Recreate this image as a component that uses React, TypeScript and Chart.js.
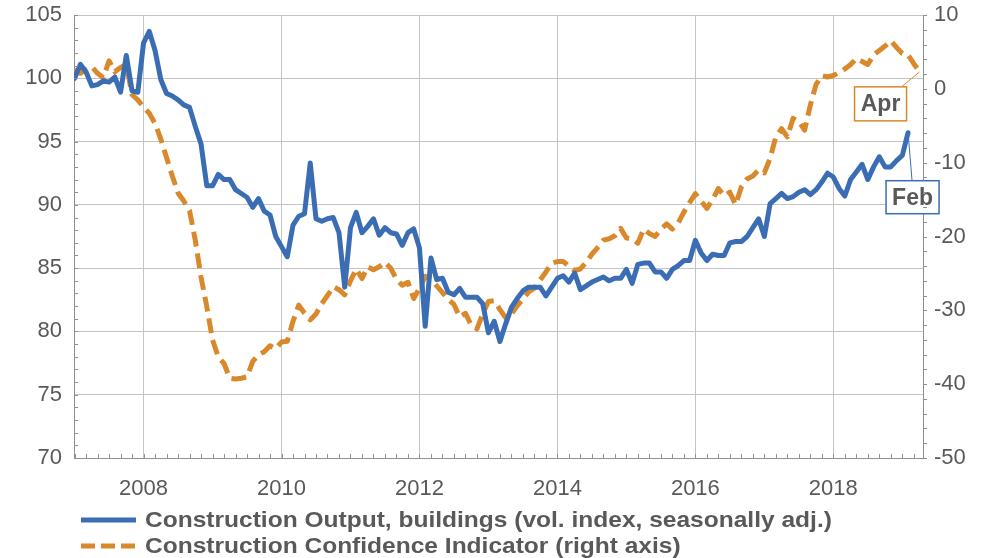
import React, { useEffect, useRef } from "react";
import { Chart, registerables } from "chart.js";

Chart.register(...registerables);

const START_YEAR = 2007;

// Construction Output, buildings (monthly, Jan 2007 - Feb 2019)
const outputBuildings = [
  100.0, 101.1, 100.5, 99.4, 99.5, 99.8, 99.7, 100.1, 98.9, 101.8, 99.0, 98.9,
  102.8, 103.7, 102.2, 99.9, 98.8, 98.6, 98.3, 97.9, 97.7, 96.2, 94.8, 91.5,
  91.5, 92.4, 92.0, 92.0, 91.2, 90.9, 90.6, 89.8, 90.5, 89.5, 89.2, 87.5,
  86.7, 85.9, 88.4, 89.1, 89.3, 93.3, 88.9, 88.7, 88.9, 89.0, 87.8, 83.5,
  88.2, 89.4, 87.8, 88.3, 88.9, 87.6, 88.2, 87.8, 87.7, 86.8, 87.8, 88.1,
  86.6, 80.4, 85.8, 84.1, 84.2, 83.1, 82.9, 83.4, 82.7, 82.7, 82.7, 82.2,
  79.9, 80.8, 79.2, 80.6, 81.9, 82.6, 83.2, 83.5, 83.5, 83.5, 82.8, 83.5,
  84.2, 84.4, 83.9, 84.6, 83.3, 83.6, 83.9, 84.1, 84.3, 84.0, 84.2, 84.2,
  84.9, 83.8, 85.3, 85.4, 85.4, 84.7, 84.7, 84.2, 84.9, 85.2, 85.6, 85.6,
  87.2, 86.2, 85.6, 86.1, 86.0, 86.0, 87.0, 87.1, 87.1, 87.5, 88.2, 88.9,
  87.5, 90.1, 90.5, 90.9, 90.5, 90.65, 91.0, 91.2, 90.8, 91.2, 91.8, 92.5,
  92.2, 91.3, 90.7, 92.0, 92.6, 93.2, 92.0, 93.0, 93.8, 93.0, 93.0, 93.5,
  93.9, 95.7,
];

// Construction Confidence Indicator (monthly, Jan 2007 - Apr 2019)
const confidenceIndicator = [
  2.6, 2.1, 2.6, 3.0, 2.1, 1.5, 3.8, 2.3, 2.9, 3.3, -0.8, -1.5,
  -2.5, -3.3, -4.7, -6.8, -9.3, -11.8, -14.1, -15.2, -16.5, -20.5, -25.5, -29.5,
  -34.0, -36.3, -37.2, -39.2, -39.3, -39.2, -39.0, -36.9, -36.0, -35.6, -34.8, -35.2,
  -34.3, -34.2, -31.5, -29.3, -30.4, -31.3, -30.5, -29.1, -28.0, -26.8, -27.2, -27.9,
  -26.0, -24.4, -25.7, -24.1, -24.5, -24.1, -23.5, -24.3, -25.8, -26.6, -26.2, -28.4,
  -27.0, -25.4, -25.8, -26.7, -27.6, -28.5, -29.2, -30.9, -30.4, -32.0, -32.5, -30.5,
  -28.8, -28.7, -29.9, -31.0, -30.5, -29.4, -28.5, -27.5, -27.0, -25.9, -24.8, -23.6,
  -23.4, -23.4, -24.0, -24.6, -24.4, -23.5, -22.4, -21.5, -20.5, -20.3, -19.9, -18.9,
  -20.2, -20.3, -20.9, -19.0, -19.6, -20.0, -19.0, -18.3, -19.0, -18.2, -16.7, -15.4,
  -14.2, -15.2, -16.2, -15.0, -13.5, -14.5, -14.0, -15.7, -13.3, -12.2, -11.8, -11.0,
  -11.4, -9.4, -6.5, -5.4, -6.5, -4.0, -4.4, -5.6, -2.2, 0.6, 1.8, 1.6,
  1.8, 2.2, 2.7, 3.3, 4.1, 3.7, 3.3, 4.6, 5.2, 5.8, 6.5, 5.6,
  4.8, 4.6, 3.4, 2.3,
];

const xTickYears = [2008, 2010, 2012, 2014, 2016, 2018];
const leftTicks = [70, 75, 80, 85, 90, 95, 100, 105];
const rightTicks = [-50, -40, -30, -20, -10, 0, 10];

const outputLabel = "Construction Output, buildings (vol. index, seasonally adj.)";
const confidenceLabel = "Construction Confidence Indicator (right axis)";
const outputEndLabel = "Feb";
const confidenceEndLabel = "Apr";

const BLUE = "#3B6DB5";
const ORANGE = "#D9892C";
const TEXT = "#595959";
const GRID = "#c4c4c4";
const AXIS = "#8f8f8f";
const FONT = "'Liberation Sans', Arial, sans-serif";

const W = 989;
const H = 558;

const minorTicksPlugin = {
  id: "minorTicks",
  afterDraw(chart: any) {
    const ctx = chart.ctx;
    const { left, right, bottom } = chart.chartArea;
    const yl = chart.scales.y;
    const yr = chart.scales.y1;
    const x = chart.scales.x;
    ctx.save();
    ctx.strokeStyle = AXIS;
    ctx.lineWidth = 1;
    ctx.beginPath();
    for (let v = yl.min; v <= yl.max; v += 1) {
      const p = Math.round(yl.getPixelForValue(v)) + 0.5;
      ctx.moveTo(left, p);
      ctx.lineTo(left + 4, p);
    }
    for (let v = yr.min; v <= yr.max; v += 2) {
      const p = Math.round(yr.getPixelForValue(v)) + 0.5;
      ctx.moveTo(right, p);
      ctx.lineTo(right + 4, p);
    }
    for (let m = 0; m <= x.max; m += 2) {
      const p = Math.round(x.getPixelForValue(m)) + 0.5;
      ctx.moveTo(p, bottom);
      ctx.lineTo(p, bottom - 4);
    }
    ctx.stroke();
    ctx.restore();
  },
};

function drawCallout(
  ctx: CanvasRenderingContext2D,
  px: number,
  py: number,
  boxLeft: number,
  boxTop: number,
  boxW: number,
  boxH: number,
  anchorX: number,
  anchorY: number,
  color: string,
  text: string
) {
  ctx.save();
  ctx.strokeStyle = color;
  ctx.lineWidth = 1;
  ctx.beginPath();
  ctx.moveTo(px, py);
  ctx.lineTo(anchorX, anchorY);
  ctx.stroke();
  ctx.fillStyle = "#ffffff";
  ctx.fillRect(boxLeft, boxTop, boxW, boxH);
  ctx.lineWidth = 1.5;
  ctx.strokeRect(boxLeft, boxTop, boxW, boxH);
  ctx.fillStyle = TEXT;
  ctx.font = `bold 23px ${FONT}`;
  ctx.textAlign = "center";
  ctx.textBaseline = "middle";
  ctx.fillText(text, boxLeft + boxW / 2, boxTop + boxH / 2 + 1);
  ctx.restore();
}

const calloutPlugin = {
  id: "endCallouts",
  afterDatasetsDraw(chart: any) {
    const ctx = chart.ctx;
    const m0 = chart.getDatasetMeta(0).data;
    const m1 = chart.getDatasetMeta(1).data;
    const pb = m0[m0.length - 1];
    const po = m1[m1.length - 1];
    {
      const bw = 52, bh = 34;
      const bl = po.x - 13 - bw;
      const bt = po.y + 15;
      drawCallout(ctx, po.x, po.y, bl, bt, bw, bh, bl + bw - 5, bt, ORANGE, confidenceEndLabel);
    }
    {
      const bw = 53, bh = 33;
      const bl = pb.x - 22;
      const bt = pb.y + 48;
      drawCallout(ctx, pb.x, pb.y, bl, bt, bw, bh, pb.x + 4, bt, BLUE, outputEndLabel);
    }
  },
};

export default function App() {
  const canvasRef = useRef<HTMLCanvasElement | null>(null);

  useEffect(() => {
    document.body.style.margin = "0";
    const canvas = canvasRef.current;
    if (!canvas) return;

    const blueData = outputBuildings.map((v, i) => ({ x: i, y: v }));
    const orangeData = confidenceIndicator.map((v, i) => ({ x: i, y: v }));

    const chart = new Chart(canvas, {
      type: "line",
      data: {
        datasets: [
          {
            label: outputLabel,
            data: blueData,
            yAxisID: "y",
            borderColor: BLUE,
            backgroundColor: BLUE,
            borderWidth: 5,
            pointRadius: 0,
            tension: 0,
            borderJoinStyle: "round",
            borderCapStyle: "round",
          },
          {
            label: confidenceLabel,
            data: orangeData,
            yAxisID: "y1",
            borderColor: ORANGE,
            backgroundColor: ORANGE,
            borderWidth: 5,
            borderDash: [15, 7],
            pointRadius: 0,
            tension: 0,
            borderJoinStyle: "round",
          },
        ],
      },
      options: {
        responsive: false,
        animation: false,
        events: [],
        layout: { autoPadding: false, padding: { top: 15, left: 0, right: 0, bottom: 0 } },
        plugins: {
          legend: { display: false },
          tooltip: { enabled: false },
          title: { display: false },
        },
        scales: {
          x: {
            type: "linear",
            position: "bottom",
            min: -0.1,
            max: 147.6,
            afterBuildTicks: (scale: any) => {
              scale.ticks = xTickYears.map((y) => ({ value: (y - START_YEAR) * 12 }));
            },
            afterFit: (scale: any) => {
              scale.height = 100;
              scale.paddingLeft = 0;
              scale.paddingRight = 0;
            },
            ticks: {
              color: TEXT,
              font: { family: FONT, size: 22 },
              padding: 18,
              maxRotation: 0,
              autoSkip: false,
              callback: (v: any) => String(START_YEAR + Number(v) / 12),
            },
            grid: { color: GRID, lineWidth: 1, drawTicks: false },
            border: { color: AXIS, width: 1 },
          },
          y: {
            type: "linear",
            position: "left",
            min: 70,
            max: 105,
            afterBuildTicks: (scale: any) => {
              scale.ticks = leftTicks.map((v) => ({ value: v }));
            },
            afterFit: (scale: any) => {
              scale.width = 74;
              scale.paddingTop = 0;
              scale.paddingBottom = 0;
            },
            ticks: {
              color: TEXT,
              font: { family: FONT, size: 22 },
              padding: 12,
              autoSkip: false,
            },
            grid: { color: GRID, lineWidth: 1, drawTicks: false },
            border: { color: AXIS, width: 1 },
          },
          y1: {
            type: "linear",
            position: "right",
            min: -50,
            max: 10,
            afterBuildTicks: (scale: any) => {
              scale.ticks = rightTicks.map((v) => ({ value: v }));
            },
            afterFit: (scale: any) => {
              scale.width = 66;
              scale.paddingTop = 0;
              scale.paddingBottom = 0;
            },
            ticks: {
              color: TEXT,
              font: { family: FONT, size: 22 },
              padding: 11,
              autoSkip: false,
            },
            grid: { drawOnChartArea: false, drawTicks: false },
            border: { color: AXIS, width: 1 },
          },
        },
      },
      plugins: [minorTicksPlugin, calloutPlugin],
    } as any);

    return () => {
      chart.destroy();
    };
  }, []);

  const rowStyle: React.CSSProperties = {
    display: "flex",
    alignItems: "center",
    height: 26,
    whiteSpace: "nowrap",
  };
  const textStyle: React.CSSProperties = {
    display: "inline-block",
    transform: "scaleX(1.115)",
    transformOrigin: "left center",
  };

  return (
    <div style={{ position: "relative", width: W, height: H, background: "#fff", overflow: "hidden" }}>
      <canvas ref={canvasRef} width={W} height={H} style={{ width: W, height: H, display: "block" }} />
      <div
        style={{
          position: "absolute",
          left: 81,
          top: 507,
          fontFamily: FONT,
          fontWeight: "bold",
          fontSize: 22,
          color: TEXT,
          lineHeight: "26px",
        }}
      >
        <div style={rowStyle}>
          <svg width={55} height={10} style={{ marginRight: 9 }}>
            <line x1={0} y1={5} x2={55} y2={5} stroke={BLUE} strokeWidth={5} />
          </svg>
          <span style={textStyle}>{outputLabel}</span>
        </div>
        <div style={rowStyle}>
          <svg width={55} height={10} style={{ marginRight: 9 }}>
            <line x1={0} y1={5} x2={55} y2={5} stroke={ORANGE} strokeWidth={5} strokeDasharray="14 6" />
          </svg>
          <span style={textStyle}>{confidenceLabel}</span>
        </div>
      </div>
    </div>
  );
}
